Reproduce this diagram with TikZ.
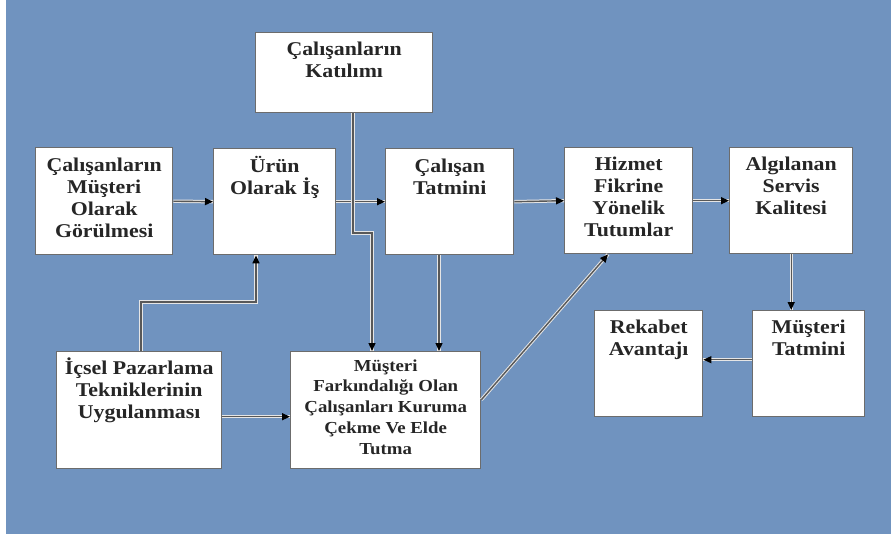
\documentclass[tikz,border=0pt]{standalone}
\usepackage{fontspec}
\setmainfont{Liberation Serif}
\newfontfamily\wideserif[FakeStretch=1.12]{Liberation Serif}
\usetikzlibrary{arrows.meta}
\definecolor{bg}{RGB}{112,147,191}
\definecolor{ln}{RGB}{88,88,88}
\newcommand\fst{\rule{0pt}{17pt}}
\newcommand\sst{\rule{0pt}{15pt}}
\begin{document}
\begin{tikzpicture}[x=1pt,y=-1pt,
 box/.style={draw=gray!85!black, line width=1.4pt, fill=white, inner sep=0pt, anchor=north west},
 txt/.style={anchor=north, inner sep=0pt, align=center, text=black!85, font=\wideserif\bfseries\fontsize{19.5}{22}\selectfont},
 stxt/.style={txt, font=\wideserif\bfseries\fontsize{16.8}{20.7}\selectfont},
 arr/.style={draw=ln, line width=1.4pt, -{Triangle[length=8pt,width=7pt,color=black]},
   preaction={draw=white!80!gray, line width=3.4pt, -}}]
\useasboundingbox (0,0) rectangle (891,538);
\fill[white] (0,0) rectangle (891,538);
\fill[bg] (6,0) rectangle (891,534);

% boxes
\node[box, minimum width=177pt, minimum height=80pt]  (kat)  at (255,32)  {};
\node[box, minimum width=137pt, minimum height=107pt] (gor)  at (35,147)  {};
\node[box, minimum width=122pt, minimum height=106pt] (urun) at (213,148) {};
\node[box, minimum width=128pt, minimum height=106pt] (ctat) at (385,148) {};
\node[box, minimum width=128pt, minimum height=106pt] (hiz)  at (564,147) {};
\node[box, minimum width=123pt, minimum height=106pt] (alg)  at (729,147) {};
\node[box, minimum width=112pt, minimum height=106pt] (mtat) at (752,310) {};
\node[box, minimum width=108pt, minimum height=106pt] (rek)  at (594,310) {};
\node[box, minimum width=165pt, minimum height=117pt] (ics)  at (56,351)  {};
\node[box, minimum width=190pt, minimum height=117pt] (fark) at (290,351) {};

% texts
\node[txt] (kat-t)  at ([yshift=-6pt]kat.north)  {\fst Çalışanların\\Katılımı};
\node[txt] (gor-t)  at ([yshift=-7pt]gor.north)  {\fst Çalışanların\\Müşteri\\Olarak\\Görülmesi};
\node[txt] (urun-t) at ([yshift=-7pt]urun.north) {\fst Ürün\\Olarak İş};
\node[txt] (ctat-t) at ([yshift=-7pt]ctat.north) {\fst Çalışan\\Tatmini};
\node[txt] (hiz-t)  at ([yshift=-6pt]hiz.north)  {\fst Hizmet\\Fikrine\\Yönelik\\Tutumlar};
\node[txt] (alg-t)  at ([yshift=-6pt]alg.north)  {\fst Algılanan\\Servis\\Kalitesi};
\node[txt] (mtat-t) at ([yshift=-6pt]mtat.north) {\fst Müşteri\\Tatmini};
\node[txt] (rek-t)  at ([yshift=-6pt]rek.north)  {\fst Rekabet\\Avantajı};
\node[txt] (ics-t)  at ([yshift=-6pt]ics.north)  {\fst İçsel Pazarlama\\Tekniklerinin\\Uygulanması};
\node[stxt] (fark-t) at ([yshift=-5pt]fark.north) {\sst Müşteri\\Farkındalığı Olan\\Çalışanları Kuruma\\Çekme Ve Elde\\Tutma};

% helper coordinates
\coordinate (kb) at (353,233);
\coordinate (kc) at (372,233);
\coordinate (i1) at (141,302);
\coordinate (i2) at (256,302);
\coordinate (cx) at (439,0);
\coordinate (h1) at (608,0);

% connectors
\draw[arr] (gor.east) -- (urun.west);
\draw[arr] (urun.east) -- (ctat.west);
\draw[arr] (ctat.east) -- (hiz.west);
\draw[arr] (hiz.east) -- (alg.west);
\draw[arr] (alg.south) -- (alg.south |- mtat.north);
\draw[arr] ([yshift=4pt]mtat.west) -- ([yshift=4pt]rek.east);
\draw[arr] (kb |- kat.south) -- (kb) -- (kc) -- (kc |- fark.north);
\draw[arr] (cx |- ctat.south) -- (cx |- fark.north);
\draw[arr] (i1 |- ics.north) -- (i1) -- (i2) -- (i2 |- urun.south);
\draw[arr] ([yshift=-6.5pt]ics.east) -- ([yshift=-6.5pt]fark.west);
\draw[arr] ([yshift=10.5pt]fark.east) -- (h1 |- hiz.south);
\end{tikzpicture}
\end{document}
